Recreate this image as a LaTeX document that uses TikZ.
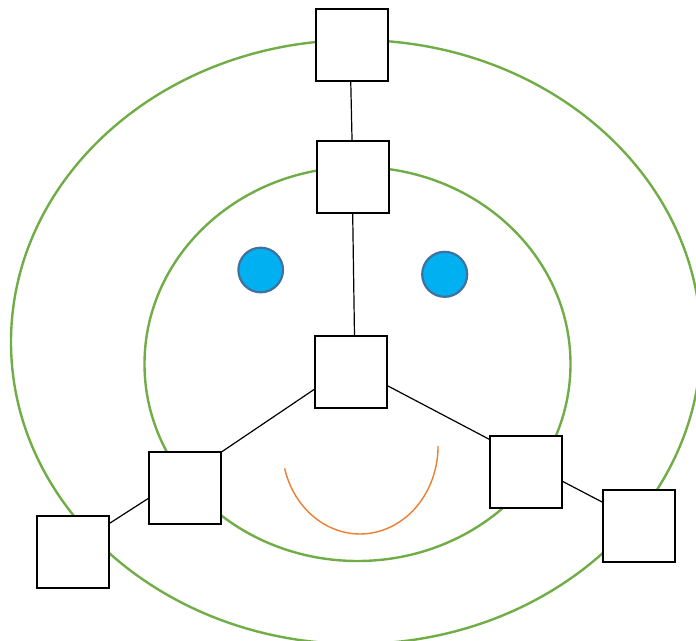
\documentclass[tikz,border=0pt]{standalone}
\begin{document}
\begin{tikzpicture}[x=1pt,y=-1pt,
  box/.style={draw=black,line width=2pt,fill=white,minimum size=72pt,inner sep=0pt,outer sep=0pt},
  ring/.style={draw=ringgreen,line width=2.4pt},
  eye/.style={draw=eyeedge,fill=eyefill,line width=2.2pt},
  link/.style={draw=black,line width=1.2pt}]
\definecolor{ringgreen}{HTML}{70AD47}
\definecolor{eyefill}{HTML}{00B0F0}
\definecolor{eyeedge}{HTML}{41719C}
\definecolor{smile}{HTML}{ED7D31}
\useasboundingbox (0,0) rectangle (696,640);
\clip (0,0) rectangle (696,640);
% rings
\draw[ring] (356,342) ellipse [x radius=345pt, y radius=302pt];
\draw[ring] (357.5,364) ellipse [x radius=213pt, y radius=197pt];
% eyes
\draw[eye] (260.7,270) circle [radius=22.3pt];
\draw[eye] (444.7,274.3) circle [radius=22.5pt];
% smile
\draw[smile,line width=1.4pt] (284.6,468.3) arc [start angle=194.7, end angle=360, x radius=78pt, y radius=88pt];
% boxes
\node[box] (A) at (352,45) {};
\node[box] (B) at (353.3,176.7) {};
\node[box] (C) at (350.7,371.5) {};
\node[box] (D) at (185,488.3) {};
\node[box] (E) at (73.2,551.7) {};
\node[box] (F) at (526.2,472.2) {};
\node[box] (G) at (638.7,525.7) {};
% links
\draw[link] (A.268) -- (B.92.5);
\draw[link] (B.269) -- (C.84.3);
\draw[link] (C.206.7) -- (D.45);
\draw[link] (C.339.6) -- (F.138.4);
\draw[link] (D.195.5) -- (E.38.9);
\draw[link] (F.346) -- (G.147.5);
\end{tikzpicture}
\end{document}
